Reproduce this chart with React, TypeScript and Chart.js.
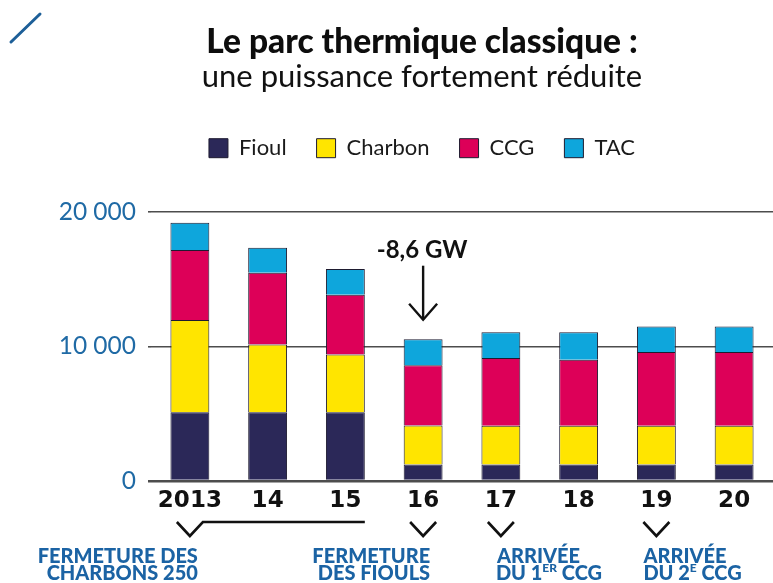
import { useEffect, useRef } from "react";
import { Chart, registerables } from "chart.js";

Chart.register(...registerables);

// ---- data ----
const categories = ["2013", "14", "15", "16", "17", "18", "19", "20"];
const seriesNames = ["Fioul", "Charbon", "CCG", "TAC"];
const fioul = [5100, 5100, 5100, 1230, 1230, 1230, 1230, 1230];
const charbon = [6850, 5030, 4300, 2890, 2870, 2870, 2870, 2870];
const ccg = [5200, 5330, 4440, 4470, 5030, 4910, 5480, 5480];
const tac = [2030, 1870, 1900, 1930, 1910, 2030, 1900, 1900];
const yTicks = [0, 10000, 20000];
const yTickLabels = ["0", "10 000", "20 000"];
const titleText = "Le parc thermique classique :";
const subtitleText = "une puissance fortement réduite";
const dropLabel = "-8,6 GW";
const dropIndex = 3;
const chevronIndices = [0, 3, 4, 6];
const closureSpan = [0, 2];
const noteCharbons = ["FERMETURE DES", "CHARBONS 250"];
const noteFiouls = ["FERMETURE", "DES FIOULS"];
const noteCcg1 = ["ARRIVÉE", "DU 1", "ER", " CCG"];
const noteCcg2 = ["ARRIVÉE", "DU 2", "E", " CCG"];

const COLORS = ["#2b2858", "#ffe500", "#dd0058", "#0ea6dc"];
const BORDER = "#1e1b30";
const BLUE_TEXT = "#1b63a4";
const LEGEND_HEIGHT = 104.5;
const DX = 35.5;

type Part = { text: string; sup?: boolean };

function drawParts(ctx: CanvasRenderingContext2D, parts: Part[], x: number, y: number, align: "left" | "right", size: number) {
  const normal = `900 ${size}px Lato`;
  const small = `900 ${Math.round(size * 0.6)}px Lato`;
  const widths = parts.map((p) => {
    ctx.font = p.sup ? small : normal;
    return ctx.measureText(p.text).width;
  });
  const total = widths.reduce((a, b) => a + b, 0);
  let cx = align === "left" ? x : x - total;
  ctx.textAlign = "left";
  ctx.textBaseline = "alphabetic";
  parts.forEach((p, i) => {
    ctx.font = p.sup ? small : normal;
    ctx.fillText(p.text, cx, p.sup ? y - size * 0.38 : y);
    cx += widths[i];
  });
}

const layoutPlugin = {
  id: "layoutTweaks",
  beforeInit(chart: any) {
    const legend = chart.legend;
    if (legend) {
      const fit = legend.fit;
      legend.fit = function () {
        fit.call(this);
        this.height = LEGEND_HEIGHT;
      };
    }
  },
  afterLayout(chart: any) {
    chart.boxes.forEach((b: any) => {
      if (!b.axis) {
        b.left += DX;
        b.right += DX;
      }
    });
  },
};

const annotationPlugin = {
  id: "annotations",
  afterDraw(chart: any) {
    const ctx: CanvasRenderingContext2D = chart.ctx;
    const xs = chart.scales.x;
    const area = chart.chartArea;
    const meta = chart.getDatasetMeta(0);
    const barHalf = meta.data[0] ? meta.data[0].width / 2 : 19;
    ctx.save();

    // corner slash
    ctx.strokeStyle = "#1d5f98";
    ctx.lineWidth = 3;
    ctx.lineCap = "round";
    ctx.beginPath();
    ctx.moveTo(11, 42);
    ctx.lineTo(40, 14);
    ctx.stroke();

    // drop label + arrow
    const dx = xs.getPixelForValue(dropIndex);
    ctx.fillStyle = "#111";
    ctx.font = "bold 24px Lato";
    ctx.textAlign = "center";
    ctx.textBaseline = "alphabetic";
    ctx.fillText(dropLabel, dx - 1, area.top + 46);
    ctx.strokeStyle = "#111";
    ctx.lineWidth = 2.4;
    ctx.lineCap = "butt";
    ctx.beginPath();
    ctx.moveTo(dx, area.top + 54);
    ctx.lineTo(dx, area.top + 108);
    ctx.stroke();
    ctx.beginPath();
    ctx.moveTo(dx - 14, area.top + 92);
    ctx.lineTo(dx, area.top + 108);
    ctx.lineTo(dx + 14, area.top + 92);
    ctx.stroke();

    // chevrons
    const cy = area.bottom + 41;
    ctx.lineWidth = 2.6;
    ctx.lineJoin = "miter";
    chevronIndices.forEach((i) => {
      const cx = xs.getPixelForValue(i);
      ctx.beginPath();
      ctx.moveTo(cx - 13, cy);
      ctx.lineTo(cx, cy + 14);
      ctx.lineTo(cx + 13, cy);
      if (i === closureSpan[0]) {
        ctx.lineTo(xs.getPixelForValue(closureSpan[1]) + barHalf, cy);
      }
      ctx.stroke();
    });

    // notes
    ctx.fillStyle = BLUE_TEXT;
    const y1 = area.bottom + 82;
    const y2 = area.bottom + 99;
    const size = 20;
    const x0 = xs.getPixelForValue(0) + 8;
    drawParts(ctx, [{ text: noteCharbons[0] }], x0, y1, "right", size);
    drawParts(ctx, [{ text: noteCharbons[1] }], x0, y2, "right", size);
    const x3 = xs.getPixelForValue(3) + 7;
    drawParts(ctx, [{ text: noteFiouls[0] }], x3, y1, "right", size);
    drawParts(ctx, [{ text: noteFiouls[1] }], x3, y2, "right", size);
    const x4 = xs.getPixelForValue(4) - 5;
    drawParts(ctx, [{ text: noteCcg1[0] }], x4 + 1, y1, "left", size);
    drawParts(ctx, [{ text: noteCcg1[1] }, { text: noteCcg1[2], sup: true }, { text: noteCcg1[3] }], x4, y2, "left", size);
    const x6 = xs.getPixelForValue(6) - 13;
    drawParts(ctx, [{ text: noteCcg2[0] }], x6, y1, "left", size);
    drawParts(ctx, [{ text: noteCcg2[1] }, { text: noteCcg2[2], sup: true }, { text: noteCcg2[3] }], x6, y2, "left", size);

    ctx.restore();
  },
};

export default function App() {
  const ref = useRef<HTMLCanvasElement | null>(null);

  useEffect(() => {
    if (!ref.current) return;
    const values = [fioul, charbon, ccg, tac];
    const chart = new Chart(ref.current, {
      type: "bar",
      data: {
        labels: categories,
        datasets: seriesNames.map((name, i) => ({
          label: name,
          data: values[i],
          backgroundColor: COLORS[i],
          borderColor: BORDER,
          borderWidth: 1,
          barPercentage: 0.5,
          categoryPercentage: 1,
        })),
      },
      options: {
        responsive: false,
        animation: false,
        layout: { padding: 0 },
        plugins: {
          tooltip: { enabled: false },
          title: {
            display: true,
            text: titleText,
            color: "#0d0d0d",
            font: { family: "Lato", size: 33.5, weight: "900", lineHeight: 1.0 },
            padding: { top: 25, bottom: 0 },
          },
          subtitle: {
            display: true,
            text: subtitleText,
            color: "#111",
            font: { family: "Lato", size: 31, weight: "normal", lineHeight: 1.2 },
            padding: { top: 0, bottom: 11.5 },
          },
          legend: {
            display: true,
            position: "top",
            labels: {
              color: "#1a1a1a",
              font: { family: "Lato", size: 22 },
              boxWidth: 19,
              boxHeight: 19,
              padding: 30,
            },
          },
        },
        scales: {
          x: {
            stacked: true,
            grid: { display: false, drawTicks: false },
            border: { display: false },
            afterFit: (s: any) => {
              s.height = 102;
            },
            ticks: {
              color: "#111",
              padding: 6,
              font: { family: "DejaVu Sans", size: 23, weight: "bold" },
            },
          },
          y: {
            stacked: true,
            min: 0,
            max: 20000,
            afterBuildTicks: (s: any) => {
              s.ticks = yTicks.map((v) => ({ value: v }));
            },
            afterFit: (s: any) => {
              s.width = 151;
            },
            border: { display: false },
            grid: {
              color: "#4d4d4d",
              lineWidth: (c: any) => (c.tick && c.tick.value === 0 ? 2.5 : 1.6),
              drawTicks: true,
              tickLength: 3,
            },
            ticks: {
              padding: 12,
              color: "#1f6aa5",
              font: { family: "Lato", size: 24.5 },
              callback: (v: any) => yTickLabels[yTicks.indexOf(Number(v))],
            },
          },
        },
      },
      plugins: [layoutPlugin, annotationPlugin],
    } as any);
    return () => chart.destroy();
  }, []);

  return (
    <div style={{ position: "fixed", left: 0, top: 0, width: 773, height: 583, background: "#fff", overflow: "hidden" }}>
      <canvas ref={ref} width={773} height={583} style={{ display: "block" }} />
    </div>
  );
}
